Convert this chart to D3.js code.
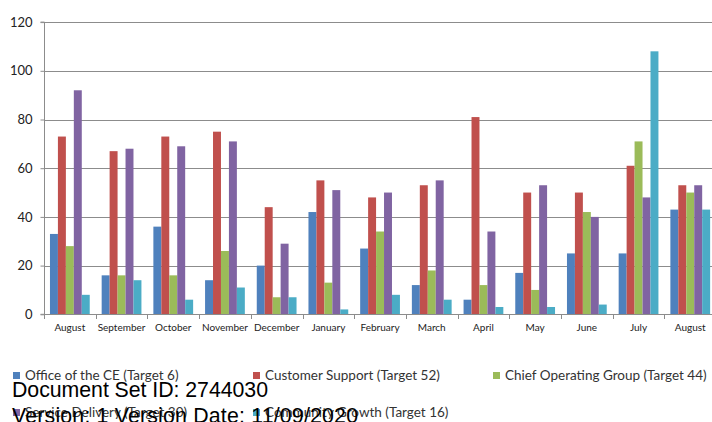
<!DOCTYPE html>
<html>
<head>
<meta charset="utf-8">
<script src="https://cdn.jsdelivr.net/npm/d3@7"></script>
<style>
  html, body { margin: 0; padding: 0; background: #fff; }
  svg { display: block; }
</style>
</head>
<body>
<svg id="chart" width="712" height="422"></svg>
<script>
// Monthly counts per business group
const months = ["August", "September", "October", "November", "December", "January",
                "February", "March", "April", "May", "June", "July", "August"];
const seriesNames = ["Office of the CE (Target 6)", "Customer Support (Target 52)",
                     "Chief Operating Group (Target 44)", "Service Delivery (Target 30)",
                     "Community Growth (Target 16)"];
const officeCE        = [33, 16, 36, 14, 20, 42, 27, 12,  6, 17, 25,  25, 43];
const customerSupport = [73, 67, 73, 75, 44, 55, 48, 53, 81, 50, 50,  61, 53];
const chiefOperating  = [28, 16, 16, 26,  7, 13, 34, 18, 12, 10, 42,  71, 50];
const serviceDelivery = [92, 68, 69, 71, 29, 51, 50, 55, 34, 53, 40,  48, 53];
const communityGrowth = [ 8, 14,  6, 11,  7,  2,  8,  6,  3,  3,  4, 108, 43];
const yTicks = [0, 20, 40, 60, 80, 100, 120];
const colors = ["#4F81BD", "#C0504D", "#9BBB59", "#8064A2", "#4BACC6"];

const seriesValues = [officeCE, customerSupport, chiefOperating, serviceDelivery, communityGrowth];

const svg = d3.select("#chart");
const plotLeft = 44, plotTop = 22.1, plotBottom = 314.3;
const step = 51.7;

const x = d3.scaleBand()
  .domain(d3.range(months.length))
  .range([plotLeft, plotLeft + step * months.length])
  .padding(0);

const xs = d3.scaleBand()
  .domain(d3.range(seriesValues.length))
  .range([0, x.bandwidth()])
  .paddingInner(0)
  .paddingOuter(0.75);

const y = d3.scaleLinear().domain([0, 120]).range([plotBottom, plotTop]);

// Horizontal gridlines
svg.append("g")
  .selectAll("line")
  .data(yTicks.filter(d => d > 0))
  .join("line")
  .attr("x1", plotLeft).attr("x2", 712)
  .attr("y1", d => Math.round(y(d)) + 0.5).attr("y2", d => Math.round(y(d)) + 0.5)
  .attr("stroke", "#8c8c8c").attr("stroke-width", 1);

// Bars
const groups = svg.append("g")
  .selectAll("g")
  .data(seriesValues)
  .join("g")
  .attr("fill", (d, i) => colors[i]);

groups.each(function (vals, si) {
  d3.select(this).selectAll("rect")
    .data(vals)
    .join("rect")
    .attr("x", (v, mi) => x(mi) + xs(si))
    .attr("width", xs.bandwidth())
    .attr("y", v => y(v))
    .attr("height", v => y(0) - y(v));
});

// Y axis
const yAxis = d3.axisLeft(y).tickValues(yTicks).tickSize(4).tickPadding(8);
const yg = svg.append("g")
  .attr("transform", `translate(${plotLeft + 0.5},0)`)
  .call(yAxis);
yg.select(".domain").attr("stroke", "#8c8c8c").attr("d", `M-4,${plotTop}H0V${plotBottom}H-4`);
yg.selectAll(".tick line").attr("stroke", "#8c8c8c");
yg.selectAll(".tick text")
  .attr("font-family", "Lato, 'Open Sans', sans-serif")
  .attr("font-size", 13)
  .attr("fill", "#222");

// X axis: tick marks at category boundaries, labels centred in each band
const xg = svg.append("g");
xg.append("line")
  .attr("x1", plotLeft).attr("x2", 712)
  .attr("y1", Math.round(plotBottom) + 0.5).attr("y2", Math.round(plotBottom) + 0.5)
  .attr("stroke", "#8c8c8c");
xg.selectAll("line.tick")
  .data(d3.range(months.length + 1))
  .join("line")
  .attr("class", "tick")
  .attr("x1", i => Math.round(plotLeft + i * step) + 0.5)
  .attr("x2", i => Math.round(plotLeft + i * step) + 0.5)
  .attr("y1", Math.round(plotBottom)).attr("y2", Math.round(plotBottom) + 5)
  .attr("stroke", "#8c8c8c");
xg.selectAll("text")
  .data(months)
  .join("text")
  .attr("x", (d, i) => x(i) + x.bandwidth() / 2)
  .attr("y", 331)
  .attr("text-anchor", "middle")
  .attr("font-family", "Lato, 'Open Sans', sans-serif")
  .attr("font-size", 10)
  .attr("fill", "#222")
  .text(d => d);

// Legend
const legendPos = [[13, 372], [253, 372], [493, 372], [13, 409], [253, 409]];
const legend = svg.append("g")
  .selectAll("g")
  .data(seriesNames)
  .join("g")
  .attr("transform", (d, i) => `translate(${legendPos[i][0]},${legendPos[i][1]})`);
legend.append("rect")
  .attr("width", 7).attr("height", 7)
  .attr("fill", (d, i) => colors[i]);
legend.append("text")
  .attr("x", 12).attr("y", 8)
  .attr("font-family", "Lato, 'Open Sans', sans-serif")
  .attr("font-size", 13.5)
  .attr("fill", "#333")
  .text(d => d);

// Document stamp
const stamp = svg.append("g")
  .attr("font-family", "'Liberation Sans', Arial, sans-serif")
  .attr("font-size", 21.3)
  .attr("fill", "#000");
stamp.append("text").attr("x", 12).attr("y", 397)
  .attr("textLength", 256).attr("lengthAdjust", "spacing")
  .text("Document Set ID: 2744030");
stamp.append("text").attr("x", 12).attr("y", 423)
  .attr("textLength", 346).attr("lengthAdjust", "spacing")
  .text("Version: 1 Version Date: 11/09/2020");
</script>
</body>
</html>
